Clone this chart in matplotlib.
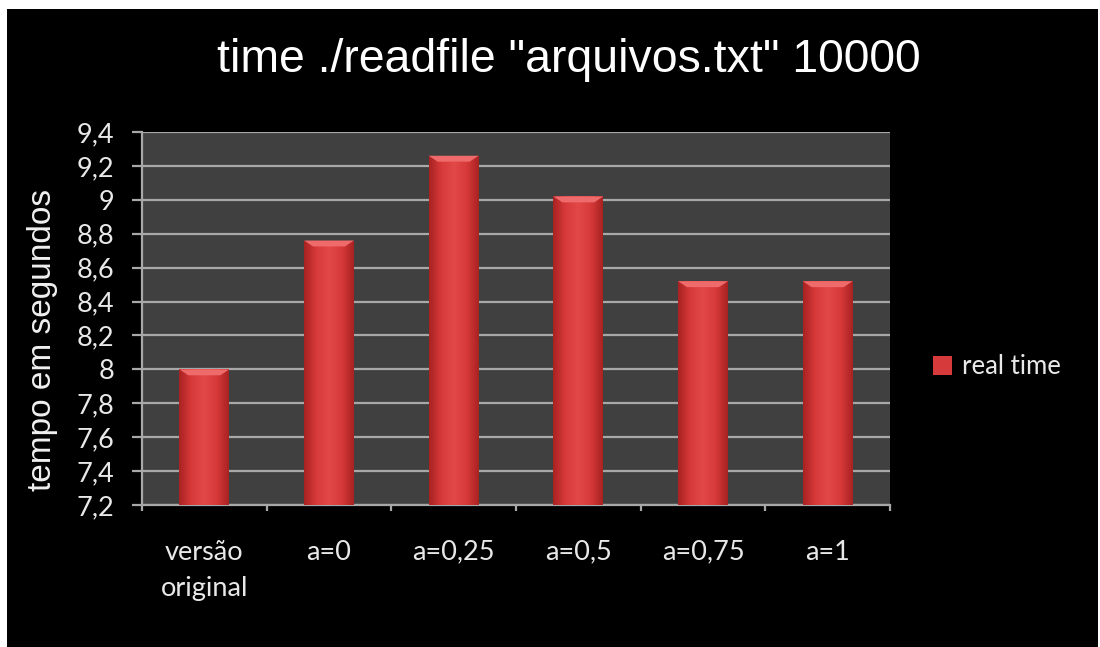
import numpy as np
import matplotlib
matplotlib.use("Agg")
import matplotlib.pyplot as plt
from matplotlib.patches import Rectangle
from matplotlib.colors import LinearSegmentedColormap

categories = ["versão\noriginal", "a=0", "a=0,25", "a=0,5", "a=0,75", "a=1"]
real_time = [8.00, 8.76, 9.26, 9.02, 8.52, 8.52]
y_ticks = [7.2, 7.4, 7.6, 7.8, 8.0, 8.2, 8.4, 8.6, 8.8, 9.0, 9.2, 9.4]
y_tick_labels = ["7,2", "7,4", "7,6", "7,8", "8", "8,2", "8,4", "8,6", "8,8", "9", "9,2", "9,4"]

W, H = 1100, 647
fig = plt.figure(figsize=(W / 100, H / 100), dpi=100, facecolor="white")

# black slide background with a thin white margin top/left
fig.patches.append(Rectangle((7 / W, 0), (W - 9) / W, (H - 9) / H,
                             transform=fig.transFigure, facecolor="black",
                             edgecolor="none", zorder=-10))

ax = fig.add_axes([142 / W, 142 / H, 748 / W, 373 / H])
ax.set_zorder(1)
ax.set_facecolor("#404040")

x = np.arange(len(categories))
bar_w = 0.4
bars = ax.bar(x, [v - 7.2 for v in real_time], bottom=7.2, width=bar_w,
              color="#d63a3a", edgecolor="none", zorder=3, label="real time")

# horizontal shading across each bar, with a lighter bevel at the top
shade = LinearSegmentedColormap.from_list(
    "bar_shade", ["#a82222", "#d83a3a", "#e24848", "#d83a3a", "#a82222"])
grad = np.linspace(0, 1, 256).reshape(1, -1)
for b in bars:
    x0, y0 = b.get_x(), b.get_y()
    w, h = b.get_width(), b.get_height()
    im = ax.imshow(grad, cmap=shade, extent=[x0, x0 + w, y0, y0 + h],
                   aspect="auto", zorder=4, interpolation="bicubic")
    im.set_clip_path(b)
    bev = 0.035
    ax.fill([x0, x0 + w, x0 + w - w * 0.18, x0 + w * 0.18],
            [y0 + h, y0 + h, y0 + h - bev, y0 + h - bev],
            color="#ef6a6a", zorder=5, lw=0)

ax.set_xlim(-0.5, len(categories) - 0.5)
ax.set_ylim(7.2, 9.4)
ax.set_yticks(y_ticks)
ax.set_yticklabels(y_tick_labels)
ax.set_xticks(x)
ax.set_xticklabels(categories, linespacing=1.55)
ax.set_xticks(np.arange(len(categories) + 1) - 0.5, minor=True)

ax.grid(axis="y", color="#a8a8a8", linewidth=1.6, zorder=1)
ax.set_axisbelow(True)

for s in ("top", "right"):
    ax.spines[s].set_visible(False)
for s in ("left", "bottom"):
    ax.spines[s].set_color("#a8a8a8")
    ax.spines[s].set_linewidth(1.6)

tick_font = "Lato"
ax.tick_params(axis="y", colors="#a8a8a8", length=7, width=1.6, pad=13,
               labelcolor="#e8e8e8", labelsize=19.5)
ax.tick_params(axis="x", which="major", length=0, pad=25,
               labelcolor="#e8e8e8", labelsize=19.5)
ax.tick_params(axis="x", which="minor", colors="#a8a8a8", length=4, width=1.6)
for lab in ax.get_xticklabels() + ax.get_yticklabels():
    lab.set_fontfamily(tick_font)

ax.set_ylabel("tempo em segundos", fontsize=24, color="#f0f0f0",
              family="Liberation Sans")
ax.yaxis.set_label_coords(-84 / 748, 165 / 373)

fig.text(569 / W, 1 - 60 / H, 'time ./readfile "arquivos.txt" 10000',
         ha="center", va="center", fontsize=33.4, color="white",
         family="Liberation Sans")

leg = ax.legend(loc="center left", bbox_to_anchor=(1.057, 138 / 373),
                frameon=False, borderaxespad=0, borderpad=0,
                handlelength=0.75, handleheight=0.75, handletextpad=0.4,
                prop={"family": tick_font, "size": 18.5})
for t in leg.get_texts():
    t.set_color("#e8e8e8")

fig.savefig("out.png", dpi=100, facecolor="white")
